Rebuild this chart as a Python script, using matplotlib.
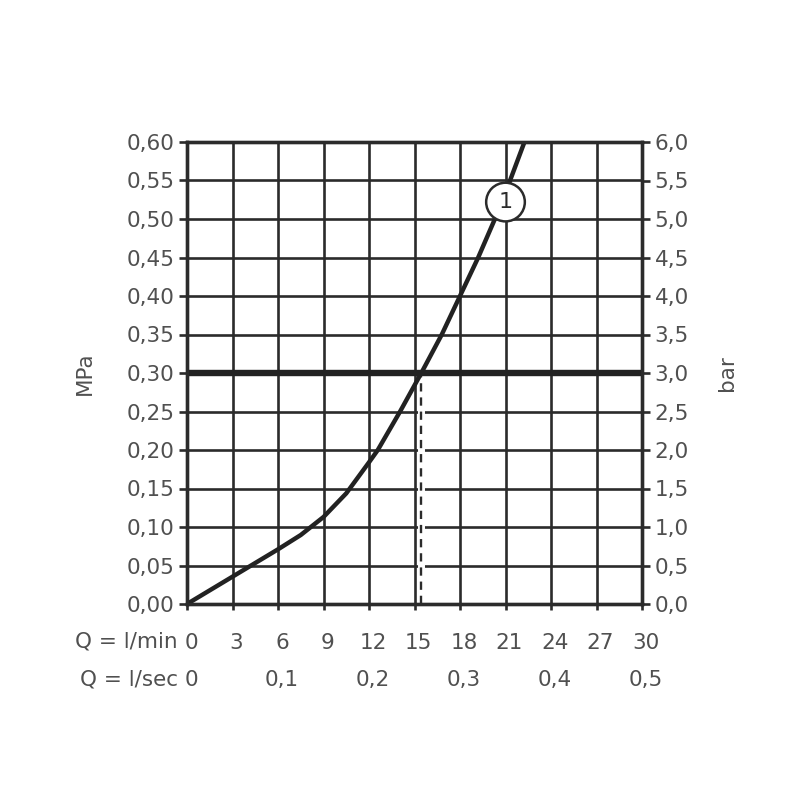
import matplotlib
matplotlib.use("Agg")
import matplotlib.pyplot as plt
import matplotlib.transforms as mtransforms
import numpy as np

plt.rcParams['font.family'] = ['DejaVu Sans']

# Data
flow_lpm = [0, 3, 6, 7.5, 9, 10.5, 12, 12.58, 14.05, 15.45, 16.8, 18.0, 19.2, 20.3, 21.3, 22.25]
pressure_mpa = [0, 0.0355, 0.071, 0.0896, 0.113, 0.1437, 0.184, 0.20, 0.25, 0.30, 0.35, 0.40,
                0.45, 0.50, 0.55, 0.60]
x_ticks_lpm = [0, 3, 6, 9, 12, 15, 18, 21, 24, 27, 30]
x_ticks_lps = [0, 0.1, 0.2, 0.3, 0.4, 0.5]
y_ticks_mpa = [round(0.05 * i, 2) for i in range(13)]
y_ticks_bar = [round(0.5 * i, 1) for i in range(13)]
ref_pressure = 0.30
curve_label = "1"
curve_label_pos = (21.0, 0.522)

dark = "#2b2b2b"
txt = "#505050"
fs = 15.5

fig = plt.figure(figsize=(8, 8), dpi=100)
ax = fig.add_axes([187/800, 1 - 604/800, (642-187)/800, (604-142)/800])
ax.set_xlim(0, 30)
ax.set_ylim(0, 0.60)

# grid
for xv in x_ticks_lpm:
    ax.axvline(xv, color=dark, lw=1.9, zorder=1)
for yv in y_ticks_mpa:
    ax.axhline(yv, color=dark, lw=1.9, zorder=1)

# reference line
ax.axhline(ref_pressure, color="#222222", lw=4.6, zorder=3)
q_ref = float(np.interp(ref_pressure, pressure_mpa, flow_lpm))
ax.vlines(q_ref, 0, ref_pressure, colors="white", lw=5, zorder=1.5)
ax.vlines(q_ref, 0, ref_pressure, colors=dark, linestyles=(0, (3.5, 2.5)), lw=1.7, zorder=2)

# curve
ax.plot(flow_lpm, pressure_mpa, color="#222222", lw=3.2, zorder=4, clip_on=False,
        solid_capstyle='butt', solid_joinstyle='round')

ax.text(curve_label_pos[0], curve_label_pos[1], curve_label, ha="center", va="center",
        fontsize=16, color=dark, zorder=6,
        bbox=dict(boxstyle="circle,pad=0.42", fc="white", ec=dark, lw=1.8))

for s in ax.spines.values():
    s.set_color(dark)
    s.set_linewidth(2.4)

shift = mtransforms.ScaledTranslation(4/100, 0, fig.dpi_scale_trans)

ax.set_yticks(y_ticks_mpa)
ax.set_yticklabels([f"{v:.2f}".replace(".", ",") for v in y_ticks_mpa])
ax.set_xticks(x_ticks_lpm)
ax.set_xticklabels([str(v) for v in x_ticks_lpm])
ax.tick_params(axis="y", direction="out", length=6, width=1.9, color=dark,
               labelsize=fs, labelcolor=txt, pad=3)
ax.tick_params(axis="x", direction="out", length=4, width=1.9, color=dark,
               labelsize=fs, labelcolor=txt, pad=17)
for lab in ax.get_xticklabels():
    lab.set_transform(lab.get_transform() + shift)
ax.set_ylabel("MPa", fontsize=fs, color=txt)
ax.yaxis.set_label_coords((95-187)/455, 0.5)

ax2 = ax.twinx()
ax2.set_ylim(0, 6.0)
ax2.set_yticks(y_ticks_bar)
ax2.set_yticklabels([f"{v:.1f}".replace(".", ",") for v in y_ticks_bar])
ax2.tick_params(axis="y", direction="out", length=6, width=1.9, color=dark,
                labelsize=fs, labelcolor=txt, pad=3)
ax2.set_ylabel("bar", fontsize=fs, color=txt, rotation=90)
ax2.yaxis.set_label_coords((717-187)/455, 0.5)
for s in ax2.spines.values():
    s.set_color(dark)
    s.set_linewidth(2.4)

# second x row (l/sec)
for v in x_ticks_lps:
    lab = "0" if v == 0 else f"{v:.1f}".replace(".", ",")
    ax.text(v * 60, -(680 - 604) / 770, lab, ha="center", va="center", fontsize=fs,
            color=txt, transform=ax.transData + shift, clip_on=False)

ax.text(-0.02, -(642 - 604) / 462, "Q = l/min", ha="right", va="center", fontsize=fs,
        color=txt, transform=ax.transAxes, clip_on=False)
ax.text(-0.02, -(680 - 604) / 462, "Q = l/sec", ha="right", va="center", fontsize=fs,
        color=txt, transform=ax.transAxes, clip_on=False)

fig.savefig("out.png", dpi=100, facecolor="white")
